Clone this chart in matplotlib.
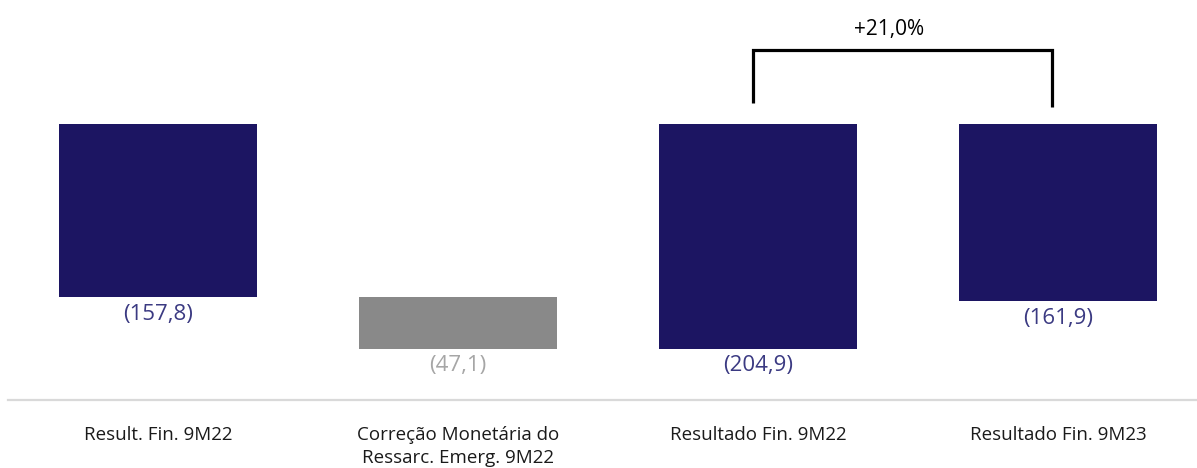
import matplotlib
matplotlib.use("Agg")
import matplotlib.pyplot as plt

categories = ["Result. Fin. 9M22", "Correção Monetária do\nRessarc. Emerg. 9M22",
              "Resultado Fin. 9M22", "Resultado Fin. 9M23"]
values = [-157.8, -47.1, -204.9, -161.9]
kinds = ["total", "delta", "total", "total"]
value_labels = ["(157,8)", "(47,1)", "(204,9)", "(161,9)"]
bracket_label = "+21,0%"

NAVY = "#1c1562"
GRAY = "#898989"
LBL_NAVY = "#3b3a82"
LBL_GRAY = "#a6a6a6"

plt.rcParams['font.family'] = ['Open Sans', 'DejaVu Sans']

fig = plt.figure(figsize=(11.97, 4.68), dpi=100)
ax = fig.add_axes([8/1197, 68/468, 1189/1197, 400/468])

bottoms = []
running = 0.0
for v, k in zip(values, kinds):
    if k == "total":
        bottoms.append(0.0)
        running = v
    else:
        bottoms.append(running)
        running += v

colors = [NAVY if k == "total" else GRAY for k in kinds]
lcolors = [LBL_NAVY if k == "total" else LBL_GRAY for k in kinds]
x = list(range(len(values)))
ax.bar(x, values, bottom=bottoms, width=0.66, color=colors, edgecolor="none")

for xi, v, b, lab, c in zip(x, values, bottoms, value_labels, lcolors):
    ax.text(xi, b + v - 6, lab, ha="center", va="top", fontsize=16, color=c)

# bracket between bar 3 and bar 4
x1, x2 = 2 - 0.017, 3 - 0.02
ax.plot([x1, x1, x2, x2], [19.2, 67.5, 67.5, 15.5], color="black", lw=2.3,
        solid_capstyle="butt", solid_joinstyle="miter", clip_on=False)
ax.text((x1 + x2) / 2 - 0.045, 86.0, bracket_label, ha="center", va="center", fontsize=15, color="black")

ax.set_xlim(-0.5, -0.5 + 1189/300)
ax.set_ylim(-276/1.096, 124/1.096)
ax.set_xticks(x)
ax.set_xticklabels(categories, fontsize=13.5, color="#1a1a1a", linespacing=1.3)
ax.tick_params(axis="x", length=0, pad=19)
ax.set_yticks([])
for s in ["top", "left", "right"]:
    ax.spines[s].set_visible(False)
ax.spines["bottom"].set_color("#d9d9d9")
ax.spines["bottom"].set_linewidth(1.6)

fig.savefig("out.png", dpi=100)
